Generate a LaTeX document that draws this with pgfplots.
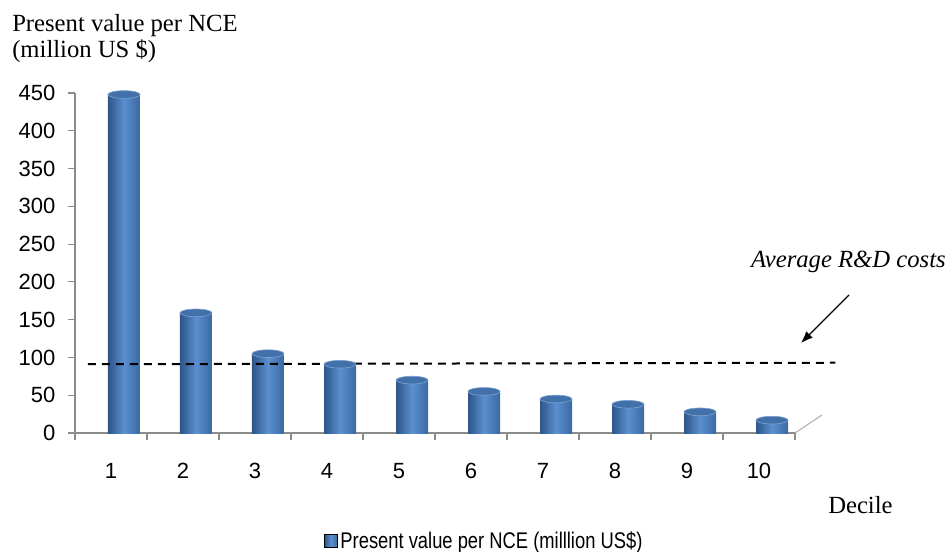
\documentclass[border=0pt]{standalone}
\usepackage{fontspec}
\setmainfont{Liberation Serif}
\setsansfont{Liberation Sans}
\usepackage{graphicx}
\usepackage{pgfplots}
\pgfplotsset{compat=1.18}
\usepackage{pgfplotstable}
\usetikzlibrary{arrows.meta}

\definecolor{bardark}{HTML}{2D5589}
\definecolor{barlight}{HTML}{5B8FD0}
\definecolor{barright}{HTML}{3A68A2}
\definecolor{bartop}{HTML}{4270A8}
\definecolor{barrim}{HTML}{7BA0D0}
\definecolor{axisgray}{HTML}{8C8C8C}

% present value per NCE by decile (million US$)
\pgfplotstableread{
decile value
1  448
2  159
3  105
4  91
5  70
6  55
7  45
8  38
9  28
10 17
}\pvdata

\begin{document}
\begin{tikzpicture}
\path[use as bounding box] (0,0) rectangle (710.25pt,-414pt);

\begin{axis}[
  at={(56.25pt,-324.75pt)}, anchor=south west,
  scale only axis, width=540pt, height=255pt,
  xmin=0.5, xmax=10.5, ymin=0, ymax=450,
  clip=false,
  axis x line*=bottom, axis y line*=left,
  axis line style={axisgray, line width=1.3pt},
  tick align=outside,
  major tick length=5.25pt,
  tick style={axisgray, line width=0.9pt},
  ytick={0,50,...,450},
  xtick={0.5,1.5,...,10.5},
  xticklabels={},
  extra x ticks={1,2,...,10},
  extra x tick labels={1,2,3,4,5,6,7,8,9,10},
  extra x tick style={major tick length=0pt,
    xticklabel style={yshift=-19pt}},
  /pgf/number format/assume math mode=true,
  tick label style={font=\sffamily\fontsize{16.5}{18}\selectfont, black},
  yticklabel style={xshift=-6pt},
  legend style={draw=none, fill=none, at={(0.3458,-0.3176)}, anchor=west,
    font=\sffamily\fontsize{17}{18}\selectfont, inner sep=0pt,
    legend cell align=left},
  legend image code/.code={
    \fill[left color=bardark, right color=barright, middle color=barlight]
      (0pt,-4.9pt) rectangle (9.75pt,4.9pt);},
  cylinder/.style={ybar, bar width=24pt, bar shift=9.75pt, draw=none,
    left color=bardark, right color=barright, middle color=barlight},
]
% cylinder bodies, one path per decile so each gets its own shading
\pgfplotsinvokeforeach{1,...,10}{
  \addplot[cylinder, forget plot, restrict x to domain=#1:#1]
    table[x=decile, y=value] {\pvdata};
}
\addlegendimage{black}
\addlegendentry{\scalebox{0.81}[1]{Present value per NCE (milllion US\$)}}
% cylinder tops
\addplot[only marks, mark=*, mark size=12pt, forget plot,
  mark options={xshift=9.75pt, yscale=0.24, fill=bartop, draw=barrim, line width=0.5pt}]
  table[x=decile, y=value] {\pvdata};
% average R&D costs
\addplot[black, line width=1.5pt, dash pattern=on 6pt off 4.5pt, forget plot]
  coordinates {(0.68,91) (11.06,93)};
\end{axis}

% depth edge of the floor
\draw[axisgray!70, line width=0.8pt] (596.25pt,-324.75pt) -- (616.5pt,-311.25pt);

\node[anchor=base west, font=\fontsize{18.5}{20}\selectfont, inner sep=0pt]
  at (9pt,-23.8pt) {Present value per NCE};
\node[anchor=base west, font=\fontsize{18.5}{20}\selectfont, inner sep=0pt]
  at (9pt,-43.5pt) {(million US \$)};
\node[anchor=base east, font=\itshape\fontsize{18.5}{20}\selectfont, inner sep=0pt]
  at (709.5pt,-201pt) {Average R\&D costs};
\draw[-{Latex[length=9pt,width=7pt]}, line width=1pt] (636.75pt,-221.25pt) -- (600.75pt,-257.25pt);
\node[anchor=base west, font=\fontsize{18.5}{20}\selectfont, inner sep=0pt]
  at (621pt,-384.75pt) {Decile};
\end{tikzpicture}
\end{document}
